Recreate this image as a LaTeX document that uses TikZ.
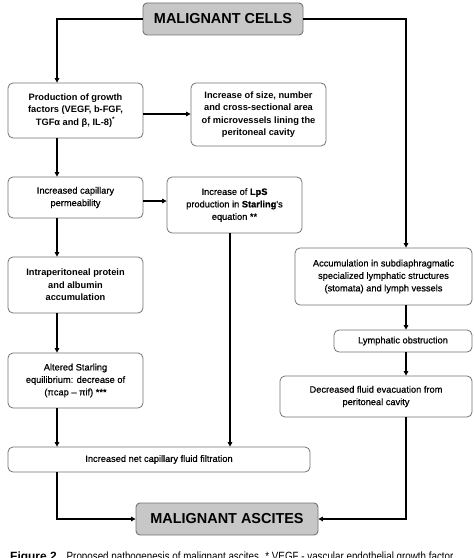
\documentclass[tikz,border=0pt]{standalone}
\usepackage{fontspec}
\setmainfont{Liberation Sans}
\newfontfamily\medfont[FakeBold=0.6]{Liberation Sans}
\newfontfamily\capfont[FakeStretch=0.82]{Liberation Sans}
\usetikzlibrary{arrows.meta}
\begin{document}
\begin{tikzpicture}[x=1bp,y=-1bp,
  box/.style={draw=black!55, line width=0.8bp, rounded corners=5bp, align=center, inner sep=0pt, font=\fontsize{9.3}{12.5}\selectfont\medfont},
  hbox/.style={box, font=\fontsize{9.3}{12.5}\selectfont\bfseries},
  titlebox/.style={draw=black!55, fill=black!22, line width=0.9bp, rounded corners=4bp, inner sep=0pt, font=\fontsize{14.5}{16}\selectfont\bfseries},
  arr/.style={line width=1.3bp, -{Triangle[length=4.5bp,width=4.5bp]}},
  ln/.style={line width=1.3bp}]
\useasboundingbox (0,0) rectangle (474,558);
\clip (0,0) rectangle (474,558);
\fill[white] (0,0) rectangle (474,558);

\coordinate (cl) at (57,0);
\coordinate (cr) at (406,0);
\coordinate (cm) at (230,0);

\node[titlebox, minimum width=160bp, minimum height=32bp] (mc) at (223,19) {MALIGNANT CELLS};
\node[hbox, minimum width=135bp, minimum height=55bp] (b1) at (75.5,110.5) {Production of growth\\factors (VEGF, b-FGF,\\TGFα and β, IL-8)\textsuperscript{*}};
\node[hbox, minimum width=135bp, minimum height=63bp] (b2) at (258.5,114.5) {Increase of size, number\\and cross-sectional area\\of microvessels lining the\\peritoneal cavity};
\node[box, minimum width=135bp, minimum height=41bp] (b3) at (75.5,197.5) {Increased capillary\\permeability};
\node[box, minimum width=135bp, minimum height=56bp] (b4) at (234.5,205) {Increase of {\bfseries LpS}\\production in {\bfseries Starling}'s\\equation **};
\node[hbox, minimum width=135bp, minimum height=56bp] (b5) at (75.5,285) {Intraperitoneal protein\\and albumin\\accumulation};
\node[box, minimum width=135bp, minimum height=55bp] (b6) at (75.5,380.5) {Altered Starling\\equilibrium: decrease of\\(πcap – πif) ***};
\node[box, minimum width=302bp, minimum height=25bp] (b7) at (159,459.5) {Increased net capillary fluid filtration};
\node[box, minimum width=177bp, minimum height=57bp] (b8) at (383.5,276.5) {Accumulation in subdiaphragmatic\\specialized lymphatic structures\\(stomata) and lymph vessels};
\node[box, minimum width=138bp, minimum height=22bp] (b9) at (403,341) {Lymphatic obstruction};
\node[box, minimum width=192bp, minimum height=41bp] (b10) at (376,396.5) {Decreased fluid evacuation from\\peritoneal cavity};
\node[titlebox, minimum width=182bp, minimum height=32bp] (ma) at (227,519) {MALIGNANT ASCITES};

\draw[arr] (mc.west) -| (b1.north -| cl);
\draw[arr] (mc.east) -| (b8.north -| cr);
\draw[arr] ([yshift=-3.5bp]b1.east) -- ([yshift=-3.5bp]b1.east -| b2.west);
\draw[arr] (b1.south -| cl) -- (b3.north -| cl);
\draw[arr] ([yshift=-3.5bp]b3.east) -- ([yshift=-3.5bp]b3.east -| b4.west);
\draw[arr] (b3.south -| cl) -- (b5.north -| cl);
\draw[arr] (b5.south -| cl) -- (b6.north -| cl);
\draw[arr] (b6.south -| cl) -- (b7.north -| cl);
\draw[arr] (b4.south -| cm) -- (b7.north -| cm);
\draw[arr] (b8.south -| cr) -- (b9.north -| cr);
\draw[arr] (b9.south -| cr) -- (b10.north -| cr);
\draw[arr] (b10.south -| cr) |- (ma.east);
\draw[arr] (b7.south -| cl) |- (ma.west);

\node[anchor=base west, inner sep=0pt] (cap) at (10,560) {\fontsize{12}{14}\selectfont\textbf{Figure 2}\hspace{10bp}{\capfont Proposed pathogenesis of malignant ascites. * VEGF - vascular endothelial growth factor}};
\end{tikzpicture}
\end{document}
